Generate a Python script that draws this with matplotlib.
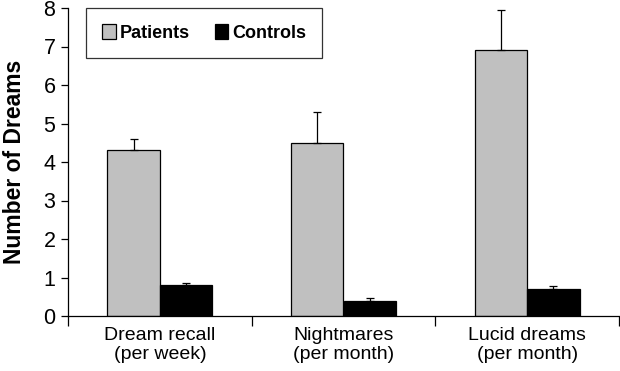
import matplotlib.pyplot as plt
import matplotlib.patches as mpatches
import numpy as np

plt.rcParams['font.family'] = ['Liberation Sans', 'DejaVu Sans']

categories = ['Dream recall\n(per week)', 'Nightmares\n(per month)', 'Lucid dreams\n(per month)']
patients = [4.3, 4.5, 6.9]
patients_err = [0.3, 0.8, 1.05]
controls = [0.8, 0.4, 0.7]
controls_err = [0.05, 0.06, 0.08]

fig = plt.figure(figsize=(6.2, 3.71), dpi=100)
ax = fig.add_axes([68/620, 1 - 316/371, 551/620, 308/371])

x = np.arange(len(categories))
w = 0.285

ax.bar(x - w/2, patients, w, color='#c0c0c0', edgecolor='black', linewidth=0.9,
       yerr=[np.zeros(3), patients_err], capsize=3,
       error_kw=dict(ecolor='black', elinewidth=0.9, capthick=0.9), zorder=2)
ax.bar(x + w/2, controls, w, color='black', edgecolor='black', linewidth=0.9,
       yerr=[np.zeros(3), controls_err], capsize=3,
       error_kw=dict(ecolor='black', elinewidth=0.9, capthick=0.9), zorder=2)

ax.set_xlim(-0.5, 2.5)
ax.set_ylim(0, 8)
ax.set_yticks(range(0, 9))
ax.tick_params(axis='y', labelsize=15.5, length=5, width=0.9, direction='out', pad=4)

# category boundaries as ticks, labels centred between them
ax.set_xticks([-0.5, 0.5, 1.5, 2.5])
ax.set_xticklabels([])
ax.tick_params(axis='x', which='major', length=7, width=0.9, direction='out')
ax.set_xticks(x, minor=True)
ax.set_xticklabels(categories, minor=True, fontsize=14, linespacing=1.12)
ax.tick_params(axis='x', which='minor', length=0, pad=8)

for s in ['top', 'right']:
    ax.spines[s].set_visible(False)
for s in ['left', 'bottom']:
    ax.spines[s].set_linewidth(0.9)

ax.set_ylabel('Number of Dreams', fontsize=16.5, fontweight='bold')
ax.yaxis.set_label_coords((26 - 68) / 551, 0.5)

handles = [mpatches.Patch(facecolor='#c0c0c0', edgecolor='black', linewidth=0.9, label='Patients'),
           mpatches.Patch(facecolor='black', edgecolor='black', linewidth=0.9, label='Controls')]
leg = fig.legend(handles=handles, loc='upper left', bbox_to_anchor=(86/620, 1 - 8/371),
                 ncol=2, frameon=True, fancybox=False, edgecolor='black',
                 prop={'size': 13, 'weight': 'bold'}, handlelength=0.75, handleheight=0.9,
                 handletextpad=0.2, columnspacing=1.4, borderpad=0.9, borderaxespad=0)
leg.get_frame().set_linewidth(0.9)

fig.savefig('out.png', dpi=100)
